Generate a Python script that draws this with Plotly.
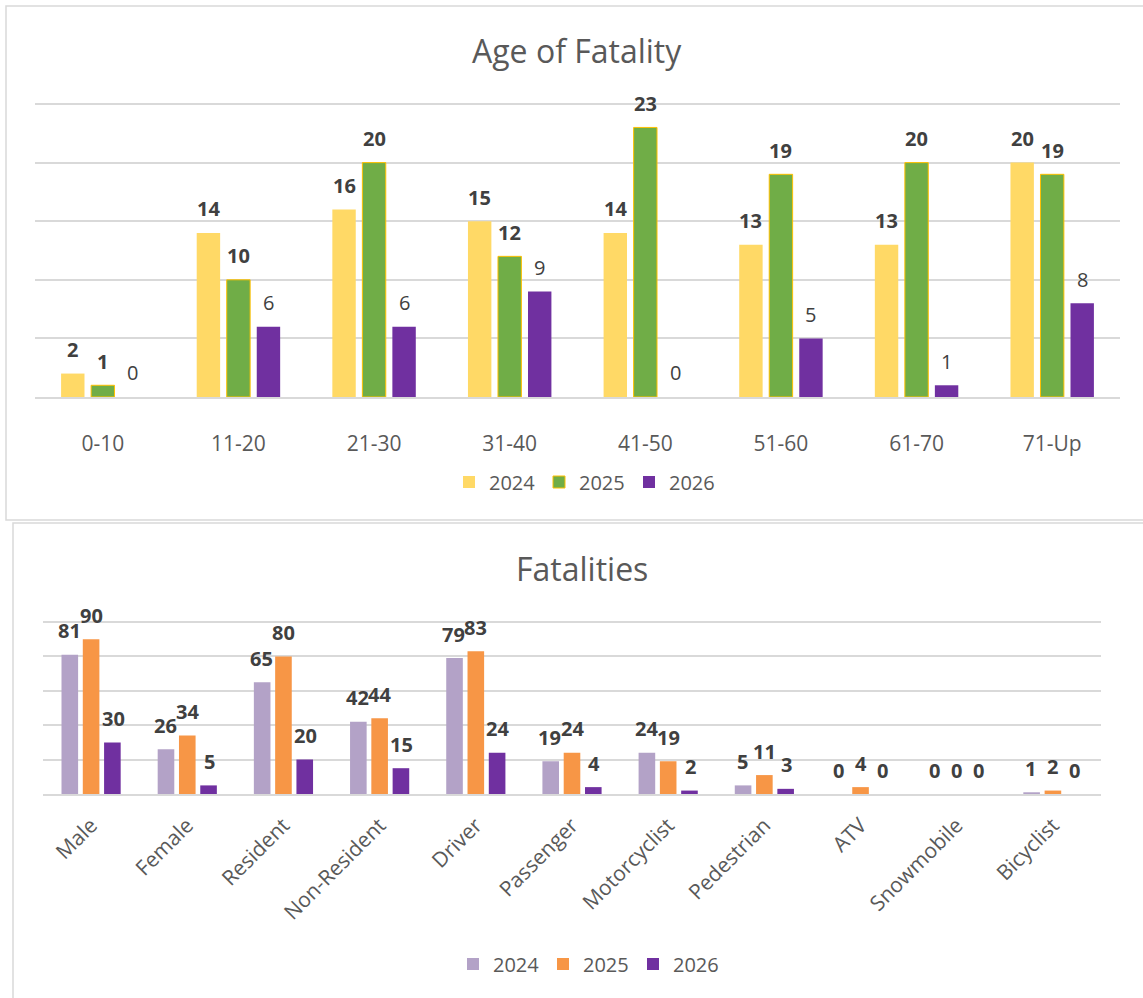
import plotly.graph_objects as go

W, H = 1143, 998

age_cats = ['0-10', '11-20', '21-30', '31-40', '41-50', '51-60', '61-70', '71-Up']
age_2024 = [2, 14, 16, 15, 14, 13, 13, 20]
age_2025 = [1, 10, 20, 12, 23, 19, 20, 19]
age_2026 = [0, 6, 6, 9, 0, 5, 1, 8]

fat_cats = ['Male', 'Female', 'Resident', 'Non-Resident', 'Driver', 'Passenger',
            'Motorcyclist', 'Pedestrian', 'ATV', 'Snowmobile', 'Bicyclist']
fat_2024 = [81, 26, 65, 42, 79, 19, 24, 5, 0, 0, 1]
fat_2025 = [90, 34, 80, 44, 83, 24, 19, 11, 4, 0, 2]
fat_2026 = [30, 5, 20, 15, 24, 4, 2, 3, 0, 0, 0]

years = ['2024', '2025', '2026']
FONT = 'Open Sans'
AX_COL = '#595959'
LBL_COL = '#404040'
GRID = '#D9D9D9'

fig = go.Figure()

top_cols = ['#FFD966', '#70AD47', '#7030A0']
top_lines = [dict(width=0), dict(color='#FFC000', width=1), dict(width=0)]
for name, vals, c, ln in zip(years, [age_2024, age_2025, age_2026], top_cols, top_lines):
    fig.add_trace(go.Bar(x=age_cats, y=vals, name=name, marker=dict(color=c, line=ln),
                         xaxis='x', yaxis='y', legend='legend'))

bot_cols = ['#B3A2C7', '#F79646', '#7030A0']
for name, vals, c in zip(years, [fat_2024, fat_2025, fat_2026], bot_cols):
    fig.add_trace(go.Bar(x=fat_cats, y=vals, name=name, marker=dict(color=c, line=dict(width=0)),
                         xaxis='x2', yaxis='y2', legend='legend2'))

ann = []
top_off = 0.221
for k, vals in enumerate([age_2024, age_2025, age_2026]):
    for i, v in enumerate(vals):
        txt = f'<b>{v}</b>' if k < 2 else str(v)
        ann.append(dict(x=i + (k - 1) * top_off, y=v, xref='x', yref='y', text=txt,
                        showarrow=False, yanchor='middle', yshift=24,
                        font=dict(family=FONT, size=20, color=LBL_COL)))
bot_off = 0.229
for k, vals in enumerate([fat_2024, fat_2025, fat_2026]):
    for i, v in enumerate(vals):
        ann.append(dict(x=i + (k - 1) * bot_off, y=v, xref='x2', yref='y2', text=f'<b>{v}</b>',
                        showarrow=False, yanchor='middle', yshift=24,
                        font=dict(family=FONT, size=20, color=LBL_COL)))

ann.append(dict(x=577 / W, y=1 - 50 / H, xref='paper', yref='paper', text='Age of Fatality',
                showarrow=False, xanchor='center', yanchor='middle',
                font=dict(family=FONT, size=32, color=AX_COL)))
ann.append(dict(x=582 / W, y=1 - 568 / H, xref='paper', yref='paper', text='Fatalities',
                showarrow=False, xanchor='center', yanchor='middle',
                font=dict(family=FONT, size=32, color=AX_COL)))

shapes = [
    dict(type='rect', xref='paper', yref='paper', x0=6 / W, x1=1.02, y0=1 - 520 / H, y1=1 - 6 / H,
         line=dict(color=GRID, width=1.5), fillcolor='rgba(0,0,0,0)', layer='below'),
    dict(type='rect', xref='paper', yref='paper', x0=13 / W, x1=1.02, y0=-0.02, y1=1 - 523 / H,
         line=dict(color=GRID, width=1.5), fillcolor='rgba(0,0,0,0)', layer='below'),
]

leg_common = dict(orientation='h', xanchor='center', yanchor='middle',
                  font=dict(family=FONT, size=20, color=AX_COL), bgcolor='rgba(0,0,0,0)',
                  itemwidth=30, entrywidth=45, entrywidthmode='pixels')

# y ranges extended a little so the top grid line is drawn
TOP_MAX, BOT_MAX = 25.6, 102.0
top_top = 397 - (397 - 104) * TOP_MAX / 25
bot_top = 794 - (794 - 622) * BOT_MAX / 100

fig.update_layout(
    width=W, height=H,
    margin=dict(l=0, r=0, t=0, b=0),
    paper_bgcolor='white', plot_bgcolor='white',
    barmode='group', bargap=0.336, bargroupgap=0.22,
    font=dict(family=FONT, color=AX_COL),
    annotations=ann, shapes=shapes,
    xaxis=dict(domain=[35 / W, 1120 / W], anchor='y', showgrid=False, showline=True,
               linecolor=GRID, linewidth=1.5, ticks='', ticklabelstandoff=27,
               tickfont=dict(family=FONT, size=21, color=AX_COL), fixedrange=True),
    yaxis=dict(domain=[1 - 397 / H, 1 - top_top / H], anchor='x', range=[0, TOP_MAX], dtick=5,
               showgrid=True, gridcolor=GRID, gridwidth=1.5, showticklabels=False,
               zeroline=False, fixedrange=True),
    xaxis2=dict(domain=[43 / W, 1101 / W], anchor='y2', showgrid=False, showline=True,
                linecolor=GRID, linewidth=1.5, ticks='', tickangle=-45, ticklabelstandoff=9,
                tickfont=dict(family=FONT, size=21, color=AX_COL), fixedrange=True),
    yaxis2=dict(domain=[1 - 794 / H, 1 - bot_top / H], anchor='x2', range=[0, BOT_MAX], dtick=20,
                showgrid=True, gridcolor=GRID, gridwidth=1.5, showticklabels=False,
                zeroline=False, fixedrange=True),
    legend=dict(x=584 / W, y=1 - 482 / H, **leg_common),
    legend2=dict(x=588 / W, y=1 - 964 / H, **leg_common),
    showlegend=True,
)

fig.write_html('out.html', config={'displayModeBar': False},
               post_script="document.body.style.margin='0';")
